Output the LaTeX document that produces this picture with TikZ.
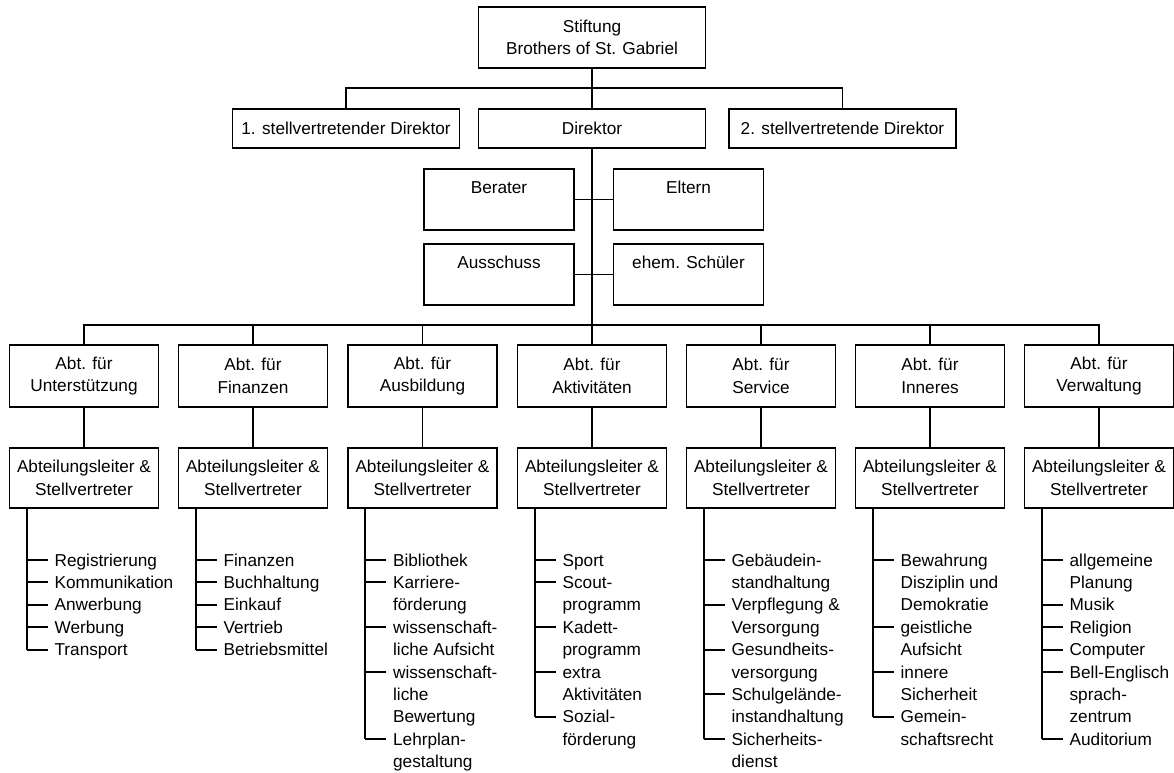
\documentclass[tikz,border=0pt]{standalone}
\usepackage{fontspec}
\setmainfont{Liberation Sans}
\begin{document}
\begin{tikzpicture}[x=0.02cm,y=-0.02cm,line width=1.1pt,
  every node/.style={font=\fontsize{9.8}{12.75}\selectfont},
  box/.style={draw,align=center,minimum width=4.54cm,minimum height=0.78cm,inner sep=1pt},
  gremium/.style={draw,minimum width=3cm,inner sep=0pt,text height=14.2pt,text depth=20.5pt},
  abt/.style={draw,align=center,minimum width=2.98cm,minimum height=1.24cm,inner sep=1pt},
  item/.style={anchor=west,inner xsep=3.5pt,inner ysep=0pt,text height=7pt,text depth=0pt}]
\useasboundingbox (0,0) rectangle (1174,773);
\node[box,minimum height=1.22cm] (stift) at (592,37.5) {Stiftung\\Brothers of St. Gabriel};
\node[box] (vize1) at (346,128.5) {1. stellvertretender Direktor};
\node[box] (dir) at (592,128.5) {Direktor};
\node[box] (vize2) at (842.5,128.5) {2. stellvertretende Direktor};
\node[gremium] (berat) at (499,199.5) {Berater};
\node[gremium] (eltern) at (688.5,199.5) {Eltern};
\node[gremium] (aussch) at (499,274.5) {Ausschuss};
\node[gremium] (alumni) at (688.5,274.5) {ehem. Schüler};
\coordinate (topbar) at (592,88);
\coordinate (bar) at (592,325);
\draw (stift) -- (dir);
\draw (vize1.north) |- (topbar) -| (vize2.north);
\draw (dir) -- (bar);
\draw (berat) -- (eltern);
\draw (aussch) -- (alumni);

\foreach \c/\x/\name/\last/\items in {
  1/84/Unterstützung/4/{1/Registrierung,1/Kommunikation,1/Anwerbung,1/Werbung,1/Transport},
  2/253/Finanzen/4/{1/Finanzen,1/Buchhaltung,1/Einkauf,1/Vertrieb,1/Betriebsmittel},
  3/422.5/Ausbildung/8/{1/Bibliothek,1/Karriere-,0/förderung,1/wissenschaft-,0/liche Aufsicht,1/wissenschaft-,0/liche,0/Bewertung,1/Lehrplan-,0/gestaltung},
  4/592/Aktivitäten/7/{1/Sport,1/Scout-,0/programm,1/Kadett-,0/programm,1/extra,0/Aktivitäten,1/Sozial-,0/förderung},
  5/761/Service/8/{1/Gebäudein-,0/standhaltung,1/Verpflegung \&,0/Versorgung,1/Gesundheits-,0/versorgung,1/Schulgelände-,0/instandhaltung,1/Sicherheits-,0/dienst},
  6/930/Inneres/7/{1/Bewahrung,0/Disziplin und,0/Demokratie,1/geistliche,0/Aufsicht,1/innere,0/Sicherheit,1/Gemein-,0/schaftsrecht},
  7/1099/Verwaltung/8/{1/allgemeine,0/Planung,1/Musik,1/Religion,1/Computer,1/Bell-Englisch,0/sprach-,0/zentrum,1/Auditorium}}{
  \node[abt] (abt\c) at (\x,376) {Abt. für\\\name};
  \node[abt,minimum height=1.2cm] (leit\c) at (\x,478) {Abteilungsleiter \&\\Stellvertreter};
  \draw (abt\c.north) |- (bar);
  \draw (abt\c) -- (leit\c);
  \coordinate (sp\c) at ([xshift=0.36cm]leit\c.south west);
  \foreach \s/\t [count=\k from 0] in \items {
    \node[item] (l\c-\k) at (\x-36.5,560+22.4*\k) {\t};
    \ifnum\s=1 \draw (sp\c |- l\c-\k.west) -- (l\c-\k.west); \fi
  }
  \draw (sp\c) -- (sp\c |- l\c-\last.west);
}
\end{tikzpicture}
\end{document}
